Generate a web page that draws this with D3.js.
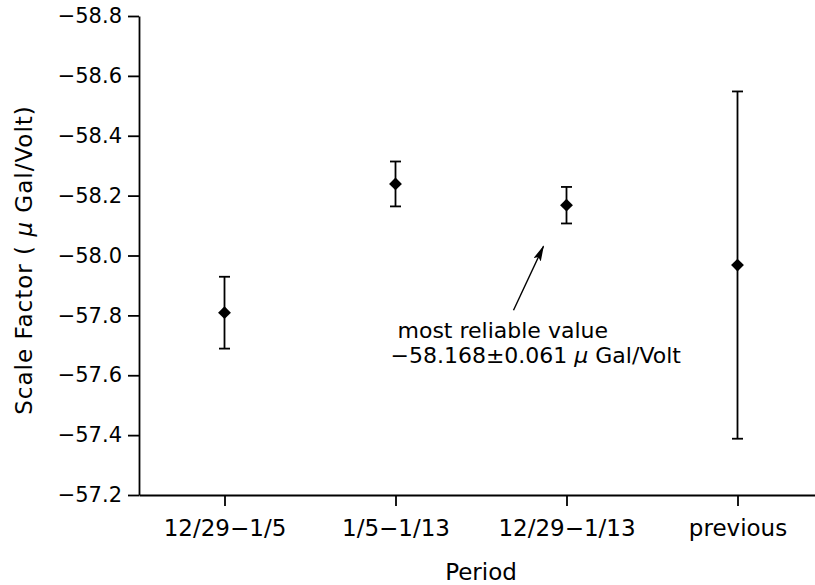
<!DOCTYPE html>
<html lang="en">
<head>
<meta charset="utf-8">
<title>Scale Factor</title>
<script src="https://d3js.org/d3.v7.min.js" charset="utf-8"></script>
<style>
 body { margin: 0; background: #fff; }
 text { font-family: "DejaVu Sans", Arial, sans-serif; fill: #000; }
</style>
</head>
<body>
<script type="text/javascript">

 // Data
 var periods = ["12/29\u22121/5", "1/5\u22121/13", "12/29\u22121/13", "previous"];
 var values = [-57.809, -58.239, -58.168, -57.968];
 var errors = [0.120, 0.075, 0.061, 0.580];
 var yTicks = [-58.8, -58.6, -58.4, -58.2, -58.0, -57.8, -57.6, -57.4, -57.2];

 var data = periods.map(function (p, i) {
     return { period: p, value: values[i], err: errors[i] };
 });

 //Display specifications
 var W = 815, H = 585;
 var margin = {top: 16, right: -8, bottom: 90, left: 139};
 var width = W - margin.left - margin.right;
 var height = H - margin.top - margin.bottom;

 var svg = d3.select("body").append("svg")
     .attr("width", W)
     .attr("height", H);

 var g = svg.append("g")
     .attr("transform", "translate(" + margin.left + "," + margin.top + ")");

 var xScale = d3.scalePoint()
     .domain(periods)
     .range([0, width])
     .padding(0.5);

 // reversed axis: more negative at top
 var yScale = d3.scaleLinear()
     .domain([-57.2, -58.8])
     .range([height, 0]);

 //Y axis
 var yAxis = g.append("g")
     .call(d3.axisLeft(yScale)
           .tickValues(yTicks)
           .tickFormat(d3.format(".1f"))
           .tickSize(11)
           .tickSizeOuter(0)
           .tickPadding(6));
 yAxis.selectAll("text").style("font-size", "21px");

 //X axis
 var xAxis = g.append("g")
     .attr("transform", "translate(0," + height + ")")
     .call(d3.axisBottom(xScale).tickSize(11).tickSizeOuter(0).tickPadding(14));
 xAxis.selectAll("text").style("font-size", "23px");

 g.selectAll(".domain, .tick line")
     .attr("stroke", "#000")
     .attr("stroke-width", 1.8);

 //Error bars
 var cap = 5.5;
 var bars = g.selectAll(".err")
     .data(data)
     .enter()
     .append("g")
     .attr("class", "err")
     .attr("stroke", "#000")
     .attr("stroke-width", 1.8);

 bars.append("line")
     .attr("x1", function (d) { return xScale(d.period); })
     .attr("x2", function (d) { return xScale(d.period); })
     .attr("y1", function (d) { return yScale(d.value - d.err); })
     .attr("y2", function (d) { return yScale(d.value + d.err); });

 bars.append("line")
     .attr("x1", function (d) { return xScale(d.period) - cap; })
     .attr("x2", function (d) { return xScale(d.period) + cap; })
     .attr("y1", function (d) { return yScale(d.value - d.err); })
     .attr("y2", function (d) { return yScale(d.value - d.err); });

 bars.append("line")
     .attr("x1", function (d) { return xScale(d.period) - cap; })
     .attr("x2", function (d) { return xScale(d.period) + cap; })
     .attr("y1", function (d) { return yScale(d.value + d.err); })
     .attr("y2", function (d) { return yScale(d.value + d.err); });

 //Diamond markers
 var diamond = d3.symbol().type(d3.symbolDiamond2 || d3.symbolSquare).size(d3.symbolDiamond2 ? 105 : 80);
 g.selectAll(".pt")
     .data(data)
     .enter()
     .append("path")
     .attr("class", "pt")
     .attr("d", diamond)
     .attr("transform", function (d) {
         var t = "translate(" + xScale(d.period) + "," + yScale(d.value) + ")";
         return d3.symbolDiamond2 ? t : t + " rotate(45)";
     })
     .attr("fill", "#000");

 //Annotation with arrow
 svg.append("defs").append("marker")
     .attr("id", "arrow")
     .attr("viewBox", "0 0 16 8")
     .attr("refX", 15).attr("refY", 4)
     .attr("markerWidth", 16).attr("markerHeight", 8)
     .attr("markerUnits", "userSpaceOnUse")
     .attr("orient", "auto")
     .append("path")
     .attr("d", "M0,0L16,4L0,8L3,4z")
     .attr("fill", "#000");

 var best = data[2];
 var ax = xScale(best.period), ay = yScale(best.value);
 g.append("line")
     .attr("x1", ax - 53).attr("y1", ay + 105)
     .attr("x2", ax - 23).attr("y2", ay + 41)
     .attr("stroke", "#000")
     .attr("stroke-width", 1.4)
     .attr("marker-end", "url(#arrow)");

 var note = g.append("text")
     .attr("x", ax - 169)
     .attr("y", ay + 133)
     .style("font-size", "22px");
 note.append("tspan").text("most reliable value");
 var l2 = note.append("tspan").attr("x", ax - 176).attr("dy", 25);
 l2.append("tspan").text(d3.format(".3f")(best.value).replace("-", "\u2212") + "\u00b1" + d3.format(".3f")(best.err));
 l2.append("tspan").style("font-style", "italic").text(" \u03bc");
 l2.append("tspan").text(" Gal/Volt");

 //Axis titles
 svg.append("text")
     .attr("x", margin.left + (xScale.range()[1]) / 2)
     .attr("y", 580)
     .attr("text-anchor", "middle")
     .style("font-size", "23px")
     .text("Period");

 var yt = svg.append("text")
     .attr("transform", "translate(32,260) rotate(-90)")
     .attr("text-anchor", "middle")
     .style("font-size", "23px")
     .style("letter-spacing", "1px");
 yt.append("tspan").text("Scale Factor ( ");
 yt.append("tspan").style("font-style", "italic").text("\u03bc");
 yt.append("tspan").text(" Gal/Volt)");

</script>
</body>
</html>
